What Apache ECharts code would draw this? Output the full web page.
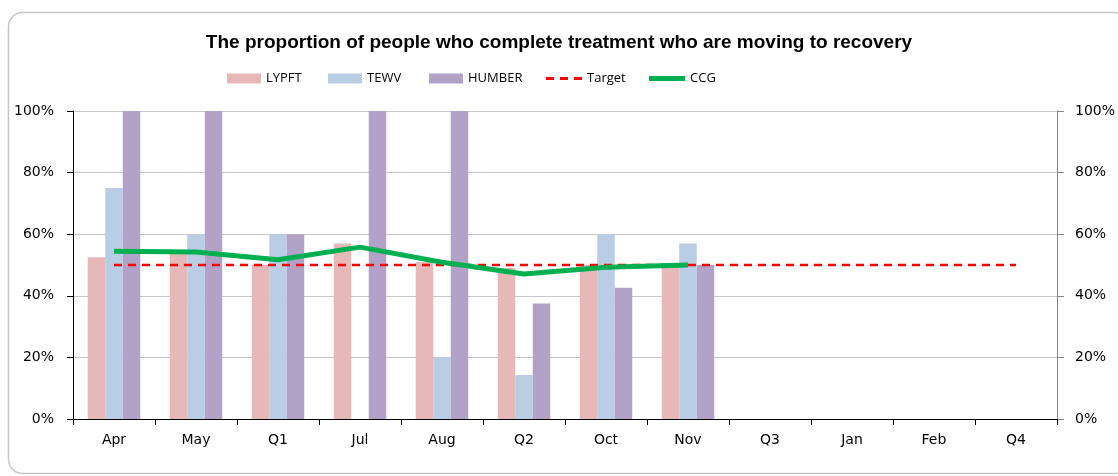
<!DOCTYPE html>
<html>
<head>
<meta charset="utf-8">
<title>Recovery chart</title>
<script src="https://cdn.jsdelivr.net/npm/echarts@6/dist/echarts.min.js"></script>
<style>
  html, body { margin: 0; padding: 0; background: #fff; }
  #chart { width: 1118px; height: 476px; }
</style>
</head>
<body>
<div id="chart"></div>
<script>
// data
var categories = ['Apr', 'May', 'Q1', 'Jul', 'Aug', 'Q2', 'Oct', 'Nov', 'Q3', 'Jan', 'Feb', 'Q4'];
var lypft  = [52.5, 54, 50, 57, 51, 49, 50, 50, null, null, null, null];
var tewv   = [75, 60, 60, 0, 20, 14.3, 60, 57, null, null, null, null];
var humber = [100, 100, 60, 100, 100, 37.5, 42.6, 50, null, null, null, null];
var target = [50, 50, 50, 50, 50, 50, 50, 50, 50, 50, 50, 50];
var ccg    = [54.5, 54.2, 51.7, 55.8, 50.9, 47.1, 49.3, 50, null, null, null, null];
var yTicks = [0, 20, 40, 60, 80, 100];

var myChart = echarts.init(document.getElementById('chart'));

var axisFont = 'DejaVu Sans';
var legendFont = 'Open Sans';

function legendAt(item, left, w, h) {
    return {
        data: [item],
        left: left,
        top: 67,
        itemWidth: w || 34,
        itemHeight: h || 10,
        itemGap: 4,
        textStyle: { fontFamily: legendFont, fontSize: 13, color: '#000' }
    };
}

function pctLabel(v) {
    return yTicks.indexOf(v) >= 0 ? v + '%' : '';
}

var option = {
    animation: false,
    graphic: [{
        type: 'rect',
        shape: { x: 8.5, y: 12.5, width: 1120, height: 461, r: 14 },
        style: { fill: 'none', stroke: '#c8c8c8', lineWidth: 1.5 },
        z: -10
    }],
    title: {
        text: 'The proportion of people who complete treatment who are moving to recovery',
        left: 'center',
        top: 28,
        textStyle: { fontFamily: 'Liberation Sans', fontSize: 19, fontWeight: 'bold', color: '#000' }
    },
    legend: [
        legendAt({ name: 'LYPFT', icon: 'rect' }, 222),
        legendAt({ name: 'TEWV', icon: 'rect' }, 323),
        legendAt({ name: 'HUMBER', icon: 'rect' }, 424),
        legendAt({ name: 'Target', icon: 'path://M0,0h8v3h-8zM14,0h8v3h-8zM28,0h8v3h-8z' }, 541, 36, 3),
        legendAt({ name: 'CCG', icon: 'rect' }, 644, 36, 5)
    ],
    grid: { left: 73, right: 61, top: 111, bottom: 57 },
    xAxis: {
        type: 'category',
        data: categories,
        axisLine: { lineStyle: { color: '#000', width: 1 } },
        axisTick: { show: true, alignWithLabel: false, length: 6, lineStyle: { color: '#000' } },
        axisLabel: { fontFamily: axisFont, fontSize: 14, color: '#000', margin: 14 }
    },
    yAxis: [{
        type: 'value',
        min: 0, max: 100, interval: 20,
        position: 'left',
        axisLine: { show: true, lineStyle: { color: '#000' } },
        axisTick: { show: true, length: 6, lineStyle: { color: '#000' } },
        splitLine: { lineStyle: { color: '#c8c8c8', width: 1 } },
        axisLabel: { fontFamily: axisFont, fontSize: 14, color: '#000', margin: 19, formatter: pctLabel }
    }, {
        type: 'value',
        min: 0, max: 100, interval: 20,
        position: 'right',
        axisLine: { show: true, lineStyle: { color: '#868686' } },
        axisTick: { show: true, length: 7, lineStyle: { color: '#868686' } },
        splitLine: { show: false },
        axisLabel: { fontFamily: axisFont, fontSize: 14, color: '#000', margin: 18, formatter: pctLabel }
    }],
    series: [
        {
            name: 'LYPFT', type: 'bar', data: lypft,
            barWidth: 17.5, barGap: '0%',
            itemStyle: { color: '#E6B9B8' }
        },
        {
            name: 'TEWV', type: 'bar', data: tewv,
            barWidth: 17.5, barGap: '0%',
            itemStyle: { color: '#B9CDE5' }
        },
        {
            name: 'HUMBER', type: 'bar', data: humber,
            barWidth: 17.5, barGap: '0%',
            itemStyle: { color: '#B3A2C7' }
        },
        {
            name: 'Target', type: 'line', data: target,
            symbol: 'none',
            itemStyle: { color: '#FF0000' },
            lineStyle: { color: '#FF0000', width: 2.5, type: [8, 6] },
            z: 5
        },
        {
            name: 'CCG', type: 'line', data: ccg,
            symbol: 'none',
            itemStyle: { color: '#00B050' },
            lineStyle: { color: '#00B050', width: 5 },
            z: 6
        }
    ]
};

myChart.setOption(option);

window.addEventListener('resize', function () {
    myChart.resize();
});
</script>
</body>
</html>
